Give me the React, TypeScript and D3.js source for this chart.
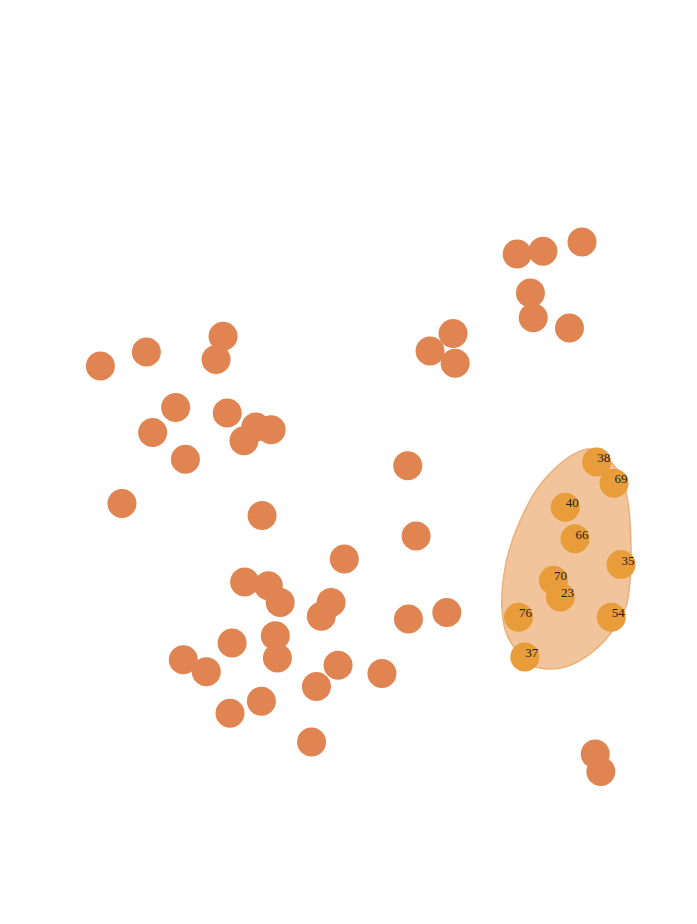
import { useEffect, useRef } from 'react';
import * as d3 from 'd3';

// background nodes (layout units, 0-100 on both axes)
const nodeX = [
  74.2, 77.9, 83.5, 76.1, 76.5, 81.7, 65.0, 61.7, 65.3, 14.4, 21.0, 32.0, 31.0, 25.2, 21.9,
  32.6, 36.7, 38.9, 35.0, 26.6, 17.5, 37.6, 58.5, 59.7, 49.4, 35.1, 38.5, 40.2, 47.5, 46.1,
  58.6, 64.1, 33.3, 39.5, 39.8, 26.3, 29.6, 48.5, 45.4, 54.8, 37.5, 33.0, 44.7, 85.4, 86.2,
];
const nodeY = [
  27.5, 27.2, 26.2, 31.7, 34.4, 35.5, 36.1, 38.0, 39.3, 39.6, 38.1, 36.4, 38.9, 44.1, 46.8,
  44.7, 46.2, 46.5, 47.7, 49.7, 54.5, 55.8, 50.4, 58.0, 60.5, 63.0, 63.4, 65.2, 65.2, 66.7,
  67.0, 66.3, 69.6, 68.8, 71.2, 71.4, 72.7, 72.0, 74.3, 72.9, 75.9, 77.2, 80.3, 81.6, 83.5,
];

// selected group
const groupIds = ['38', '69', '40', '66', '35', '70', '23', '76', '54', '37'];
const groupX = [85.6, 88.1, 81.1, 82.5, 89.1, 79.4, 80.4, 74.4, 87.7, 75.3];
const groupY = [50.0, 52.3, 54.9, 58.3, 61.1, 62.8, 64.6, 66.8, 66.8, 71.1];

// group region outline (as drawn, same layout units)
const outlineX = [
  84.6, 87.1, 89.2, 90.1, 90.5, 90.4, 89.8, 88.5, 86.8, 84.6, 81.8, 78.9, 76.3, 73.7, 72.5,
  72.0, 72.3, 73.0, 74.2, 76.8, 79.5, 82.2,
];
const outlineY = [
  48.6, 49.6, 51.7, 54.4, 58.4, 62.8, 65.7, 67.6, 69.3, 70.8, 72.0, 72.4, 72.0, 70.0, 68.2,
  65.5, 62.2, 59.7, 57.1, 53.2, 50.8, 49.2,
];

const width = 697;
const height = 924;
const radius = 14.5;

export default function App() {
  const ref = useRef<SVGSVGElement>(null);

  useEffect(() => {
    const svg = d3.select(ref.current);
    svg.selectAll('*').remove();

    const x = d3.scaleLinear().domain([0, 100]).range([0, width]);
    const y = d3.scaleLinear().domain([0, 100]).range([0, height]);

    svg
      .append('g')
      .selectAll('circle')
      .data(d3.range(nodeX.length))
      .join('circle')
      .attr('cx', (i) => x(nodeX[i]))
      .attr('cy', (i) => y(nodeY[i]))
      .attr('r', radius)
      .attr('fill', '#e08552');

    const outline = d3
      .line<number>()
      .x((i) => x(outlineX[i]))
      .y((i) => y(outlineY[i]))
      .curve(d3.curveCatmullRomClosed.alpha(0.5));

    svg
      .append('path')
      .attr('d', outline(d3.range(outlineX.length)))
      .attr('fill', '#f2c49b')
      .attr('stroke', '#ebb077')
      .attr('stroke-width', 1.5);

    const g = svg
      .append('g')
      .selectAll('g')
      .data(d3.range(groupIds.length))
      .join('g')
      .attr('transform', (i) => `translate(${x(groupX[i])},${y(groupY[i])})`);

    g.append('circle').attr('r', radius).attr('fill', '#e89c3a');

    g.append('text')
      .attr('x', 7)
      .attr('y', 0)
      .attr('text-anchor', 'middle')
      .style('font', '13px serif')
      .attr('fill', '#222')
      .text((i) => groupIds[i]);
  }, []);

  return (
    <svg
      ref={ref}
      width={width}
      height={height}
      style={{ position: 'absolute', left: 0, top: 0 }}
    ></svg>
  );
}
